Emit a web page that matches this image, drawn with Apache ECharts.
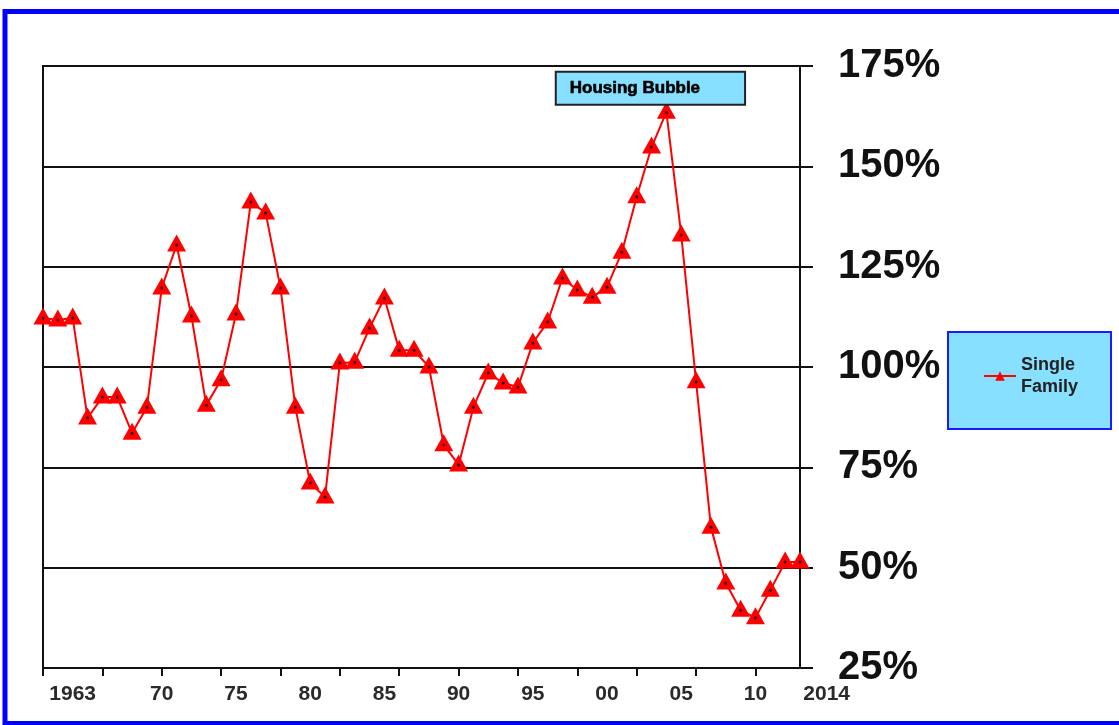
<!DOCTYPE html>
<html>
<head>
<meta charset="utf-8">
<script src="https://cdn.jsdelivr.net/npm/echarts@6/dist/echarts.min.js"></script>
<style>
  html, body { margin: 0; padding: 0; background: #ffffff; }
  #chart { width: 1119px; height: 725px; }
</style>
</head>
<body>
<div id="chart"></div>
<script>
// ---- data ----
const years = [1963,1964,1965,1966,1967,1968,1969,1970,1971,1972,1973,1974,1975,1976,1977,1978,1979,1980,1981,1982,1983,1984,1985,1986,1987,1988,1989,1990,1991,1992,1993,1994,1995,1996,1997,1998,1999,2000,2001,2002,2003,2004,2005,2006,2007,2008,2009,2010,2011,2012,2013,2014];
const singleFamily = [112.2,111.7,112.2,87.3,92.5,92.5,83.5,90.0,119.7,130.4,112.7,90.5,96.8,113.2,141.1,138.4,119.7,90.0,71.1,67.6,101.0,101.2,109.7,117.2,104.2,104.2,100.0,80.6,75.6,90.0,98.5,96.0,95.0,106.0,111.2,122.2,119.2,117.4,119.9,128.6,142.4,154.8,163.5,132.9,96.3,60.1,46.2,39.4,37.5,44.4,51.4,51.4];
const tickYears = [1963,1967,1971,1975,1979,1983,1987,1991,1995,1999,2003,2007,2011];
const labelYears = [1965,1971,1976,1981,1986,1991,1996,2001,2006,2011,2015.8];
const labelTexts = ['1963','70','75','80','85','90','95','00','05','10','2014'];
const yTicks = [25,50,75,100,125,150,175];
const seriesName = 'Single Family';
const annotationText = 'Housing Bubble';
const peakYear = 2005;

const points = years.map((y, i) => [y, singleFamily[i]]);
const peakValue = singleFamily[years.indexOf(peakYear)];

const chart = echarts.init(document.getElementById('chart'), null, { renderer: 'canvas' });

const option = {
  backgroundColor: '#ffffff',
  animation: false,
  graphic: [{
    type: 'rect',
    z: 100,
    silent: true,
    shape: { x: 5, y: 11.5, width: 1140, height: 712 },
    style: { fill: 'none', stroke: '#0000ff', lineWidth: 5 }
  }],
  grid: [
    { left: 43, top: 66, width: 757, height: 602, show: true, borderColor: '#111', borderWidth: 2, backgroundColor: 'transparent', outerBoundsMode: 'none' },
    { left: 43, top: 66, width: 801.5, height: 602, show: false, outerBoundsMode: 'none' }
  ],
  legend: {
    data: [seriesName],
    orient: 'vertical',
    left: 948,
    top: 332,
    padding: [22, 33, 31, 35],
    backgroundColor: '#87e0ff',
    borderColor: '#1a1aff',
    borderWidth: 2,
    borderRadius: 0,
    itemWidth: 32,
    itemHeight: 12,
    itemGap: 0,
    formatter: (name) => name.replace(' ', '\n'),
    textStyle: { fontFamily: 'Liberation Sans, Arial, sans-serif', fontSize: 18, fontWeight: 'bold', color: '#222', lineHeight: 22 }
  },
  xAxis: [
    {
      type: 'value', gridIndex: 0, min: years[0], max: years[years.length - 1],
      axisLine: { show: true, lineStyle: { color: '#111', width: 2 } },
      axisTick: { show: true, customValues: tickYears, length: 8, lineStyle: { color: '#111', width: 2 } },
      axisLabel: { show: false },
      splitLine: { show: false }
    },
    {
      type: 'value', gridIndex: 1, min: 1963, max: 2017,
      axisLine: { show: false },
      axisTick: { show: false },
      splitLine: { show: false },
      axisLabel: {
        show: true,
        customValues: labelYears,
        formatter: (v) => { const i = labelYears.indexOf(v); return i >= 0 ? labelTexts[i] : ''; },
        margin: 16,
        fontFamily: 'Liberation Sans, Arial, sans-serif',
        fontSize: 21,
        fontWeight: 'bold',
        color: '#2a2a2a'
      }
    }
  ],
  yAxis: [
    {
      type: 'value', gridIndex: 0, position: 'right', min: yTicks[0], max: yTicks[yTicks.length - 1], interval: 25,
      axisLine: { show: true, lineStyle: { color: '#111', width: 2 } },
      axisTick: { show: true, length: 13, lineStyle: { color: '#111', width: 2 } },
      axisLabel: {
        formatter: '{value}%', margin: 38,
        fontFamily: 'Liberation Sans, Arial, sans-serif', fontSize: 40, fontWeight: 'bold', color: '#111'
      },
      splitLine: { show: true, lineStyle: { color: '#111', width: 2 } }
    },
    { type: 'value', gridIndex: 1, min: 0, max: 1, show: false }
  ],
  series: [
    {
      name: seriesName,
      type: 'line',
      xAxisIndex: 0, yAxisIndex: 0,
      data: points,
      symbol: 'triangle',
      symbolSize: [19, 17],
      symbolOffset: [0, -2],
      itemStyle: { color: '#ff0000' },
      lineStyle: { color: '#ff0000', width: 2 },
      z: 2,
      markPoint: {
        symbol: 'rect',
        symbolSize: 1,
        itemStyle: { color: 'rgba(0,0,0,0)' },
        silent: true,
        data: [{
          coord: [peakYear, peakValue],
          label: {
            show: true,
            position: 'inside',
            offset: [-16, -24],
            formatter: annotationText,
            fontFamily: 'Liberation Sans, Arial, sans-serif',
            fontSize: 17,
            fontWeight: 'bold',
            color: '#000',
            textBorderColor: '#000',
            textBorderWidth: 0.6,
            backgroundColor: '#87e0ff',
            borderColor: '#222',
            borderWidth: 2,
            padding: [7, 44, 7, 13]
          }
        }]
      }
    },
    {
      name: 'dots',
      type: 'scatter',
      xAxisIndex: 0, yAxisIndex: 0,
      data: points,
      symbol: 'circle',
      symbolSize: 3,
      itemStyle: { color: '#000' },
      silent: true,
      z: 3
    }
  ]
};

chart.setOption(option);
</script>
</body>
</html>
